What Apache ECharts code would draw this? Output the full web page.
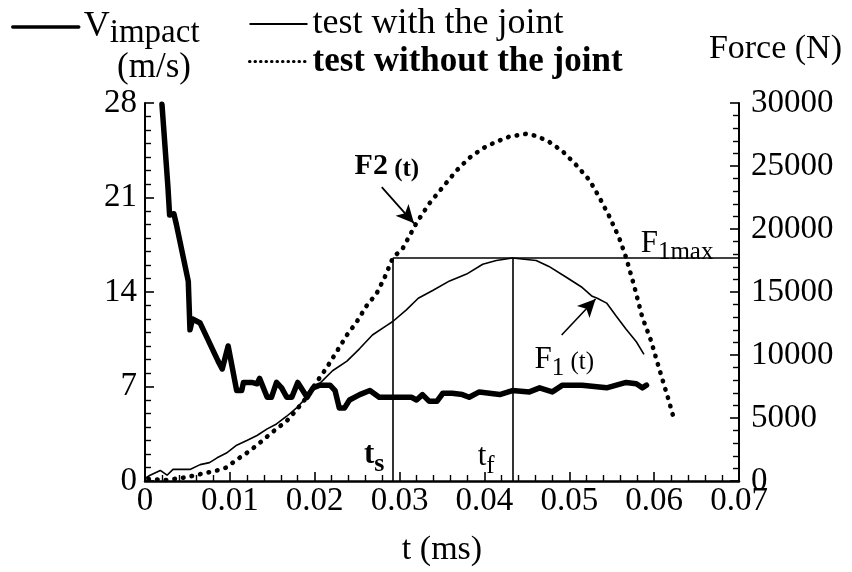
<!DOCTYPE html>
<html>
<head>
<meta charset="utf-8">
<script src="https://cdn.jsdelivr.net/npm/echarts/dist/echarts.min.js"></script>
<style>
  html, body { margin: 0; padding: 0; background: #fff; }
  #chart { width: 852px; height: 572px; }
</style>
</head>
<body>
<div id="chart"></div>
<script>
const FONT = '"Liberation Serif", "Times New Roman", serif';

// Impact velocity (m/s) against time (ms)
const vImpactT = [0.0020, 0.0027, 0.0029, 0.0034, 0.0037, 0.0051, 0.0053, 0.0056, 0.0065, 0.0086, 0.0091, 0.0098,
  0.0108, 0.0114, 0.0116, 0.0126, 0.0132, 0.0135, 0.0144, 0.0149, 0.0155, 0.0161, 0.0167, 0.0173, 0.0180, 0.0186,
  0.0191, 0.0198, 0.0206, 0.0218, 0.0224, 0.0229, 0.0235, 0.0241, 0.0253, 0.0265, 0.0276, 0.0292, 0.0304, 0.0314,
  0.0320, 0.0327, 0.0335, 0.0344, 0.0351, 0.0362, 0.0374, 0.0382, 0.0394, 0.0406, 0.0418, 0.0433, 0.0453, 0.0465,
  0.0480, 0.0492, 0.0515, 0.0544, 0.0567, 0.0579, 0.0586, 0.0591];
const vImpactV = [27.9, 21.8, 19.7, 19.8, 19.0, 14.8, 11.2, 12.0, 11.7, 8.9, 8.3, 10.0,
  6.7, 6.7, 7.3, 7.3, 7.2, 7.6, 6.2, 6.2, 7.3, 6.9, 6.2, 6.2, 7.3, 6.7,
  6.2, 6.9, 7.1, 7.1, 6.7, 5.4, 5.4, 6.0, 6.4, 6.7, 6.2, 6.2, 6.2, 6.2,
  6.0, 6.4, 5.9, 5.9, 6.5, 6.5, 6.4, 6.2, 6.6, 6.5, 6.4, 6.7, 6.6, 6.9,
  6.6, 7.1, 7.1, 6.9, 7.3, 7.2, 6.9, 7.1];

// Force measured with the joint, F1(t), in N
const f1T = [0, 0.0006, 0.0018, 0.0026, 0.0033, 0.0053, 0.0065, 0.0076, 0.0085, 0.0096, 0.0108, 0.0120, 0.0132,
  0.0144, 0.0155, 0.0167, 0.0179, 0.0191, 0.0206, 0.0221, 0.0238, 0.0253, 0.0268, 0.0285, 0.0292, 0.0308, 0.0322,
  0.0339, 0.0359, 0.0379, 0.0398, 0.0414, 0.0433, 0.0461, 0.0476, 0.0496, 0.0514, 0.0527, 0.0533, 0.0544, 0.0555,
  0.0567, 0.0579, 0.0588];
const f1F = [200, 460, 840, 460, 920, 920, 1300, 1460, 1840, 2220, 2840, 3220, 3610,
  4140, 4530, 5140, 5830, 6680, 7750, 8750, 9510, 10510, 11590, 12350, 12660, 13580, 14500,
  15120, 15880, 16420, 17200, 17500, 17700, 17500, 17030, 16190, 15420, 14660, 14500, 14120, 13120,
  12050, 11050, 10050];

// Force measured without the joint, F2(t), in N
const f2T = [0.0004, 0.0026, 0.0049, 0.0065, 0.0085, 0.0096, 0.0108, 0.0120, 0.0132, 0.0144, 0.0155, 0.0167,
  0.0179, 0.0191, 0.0202, 0.0214, 0.0226, 0.0238, 0.0249, 0.0261, 0.0273, 0.0282, 0.0292, 0.0304, 0.0320, 0.0335,
  0.0351, 0.0367, 0.0382, 0.0398, 0.0414, 0.0429, 0.0449, 0.0461, 0.0476, 0.0492, 0.0508, 0.0524, 0.0535, 0.0547,
  0.0559, 0.0567, 0.0576, 0.0586, 0.0596, 0.0606, 0.0618, 0.0624];
const f2F = [150, 80, 300, 540, 840, 1070, 1690, 2230, 2840, 3530, 4140, 4760,
  5680, 6680, 7830, 8980, 10280, 11590, 12580, 13890, 14890, 16100, 17700, 18490, 20490, 22020,
  23330, 24630, 25630, 26400, 26930, 27320, 27550, 27390, 26930, 26170, 25090, 23860, 22560, 21020,
  19260, 17720, 15600, 13000, 11200, 8900, 6220, 4760];

// Peak force with the joint and the two instants it defines
const F1_MAX = 17700;
const T_S = 0.0292;
const T_F = 0.0433;

// Axis ranges and tick steps
const T_RANGE = [0, 0.07, 0.01];
const V_RANGE = [0, 28, 7];
const F_RANGE = [0, 30000, 5000];

const zip = (xs, ys) => xs.map((x, i) => [x, ys[i]]);

const black = '#000';
const txt = (size, weight) => ({ fontFamily: FONT, fontSize: size, fontWeight: weight || 'normal', color: black });

const axisCommon = {
  axisLine: { show: true, onZero: false, lineStyle: { color: black, width: 2 } },
  axisTick: { show: true, inside: true, length: 9, lineStyle: { color: black, width: 1.6 } },
  minorTick: { show: true, length: 6, lineStyle: { color: black, width: 1.4 } },
  splitLine: { show: false },
  axisLabel: Object.assign(txt(33), { margin: 8 })
};

const guideLine = { color: black, width: 1.6, type: 'solid' };
// legend keeps only the line sample, no marker dot
const hiddenMarker = { opacity: 0, color: 'rgba(0,0,0,0)', borderWidth: 0 };

const chart = echarts.init(document.getElementById('chart'), null, { renderer: 'canvas' });
chart.setOption({
  animation: false,
  backgroundColor: '#fff',
  grid: { left: 145, right: 113, top: 103, bottom: 78, containLabel: false },
  legend: [
    {
      data: [{ name: 'Vimpact', lineStyle: { width: 3.5 } }],
      left: 6, top: 4,
      itemWidth: 66, itemHeight: 14,
      selectedMode: false,
      itemStyle: hiddenMarker,
      formatter: () => '{v|V}{s|impact}',
      textStyle: {
        fontFamily: FONT, color: black,
        rich: {
          v: txt(36),
          s: Object.assign(txt(33), { padding: [12, 0, 0, 0] })
        }
      }
    },
    {
      data: [
        { name: 'test with the joint', textStyle: txt(36) },
        { name: 'test without the joint', textStyle: txt(35, 'bold'), lineStyle: { width: 3, type: [0.5, 5] } }
      ],
      orient: 'vertical',
      left: 243, top: 1,
      itemWidth: 58, itemHeight: 14, itemGap: 2,
      selectedMode: false,
      itemStyle: hiddenMarker,
      textStyle: txt(36)
    }
  ],
  xAxis: Object.assign({}, axisCommon, {
    type: 'value', min: T_RANGE[0], max: T_RANGE[1], interval: T_RANGE[2],
    minorTick: Object.assign({}, axisCommon.minorTick, { splitNumber: 5 }),
    axisLine: { show: true, onZero: false, lineStyle: { color: black, width: 2.5 } },
    axisLabel: Object.assign(txt(33), { margin: 4, formatter: v => (v === 0 ? '0' : v.toFixed(2)) }),
    name: 't (ms)', nameLocation: 'middle', nameGap: 52,
    nameTextStyle: txt(34)
  }),
  yAxis: [
    Object.assign({}, axisCommon, {
      type: 'value', position: 'left', min: V_RANGE[0], max: V_RANGE[1], interval: V_RANGE[2],
      minorTick: Object.assign({}, axisCommon.minorTick, { splitNumber: 7 }),
      name: '(m/s)', nameLocation: 'end', nameGap: 18,
      nameTextStyle: Object.assign(txt(35), { padding: [0, 0, 0, 18] })
    }),
    Object.assign({}, axisCommon, {
      type: 'value', position: 'right', min: F_RANGE[0], max: F_RANGE[1], interval: F_RANGE[2],
      minorTick: Object.assign({}, axisCommon.minorTick, { splitNumber: 5 }),
      axisLabel: Object.assign(txt(33), { margin: 12, formatter: v => String(v) })
    })
  ],
  graphic: [
    { type: 'text', right: 10, top: 32, style: Object.assign(txt(34), { text: 'Force (N)', fill: black }) }
  ],
  series: [
    {
      name: 'Vimpact', type: 'line', yAxisIndex: 0, data: zip(vImpactT, vImpactV),
      symbol: 'none', showSymbol: false, silent: true, z: 4,
      lineStyle: { color: black, width: 5.5, join: 'round', cap: 'round' },
      itemStyle: { color: black }
    },
    {
      name: 'test with the joint', type: 'line', yAxisIndex: 1, data: zip(f1T, f1F),
      symbol: 'none', showSymbol: false, silent: true, z: 3,
      lineStyle: { color: black, width: 1.6 },
      itemStyle: { color: black },
      markLine: {
        silent: true, symbol: 'none', label: { show: false }, lineStyle: guideLine,
        data: [
          [{ coord: [T_S, 0] }, { coord: [T_S, F1_MAX] }],
          [{ coord: [T_F, 0] }, { coord: [T_F, F1_MAX] }],
          [{ coord: [T_S, F1_MAX] }, { coord: [T_RANGE[1], F1_MAX] }],
          [{ coord: [0.0491, 11590], symbol: 'none' }, { coord: [0.0531, 14450], symbol: 'arrow', symbolSize: [13, 18] }]
        ]
      },
      markPoint: {
        silent: true, symbol: 'circle', symbolSize: 0,
        data: [
          { coord: [0.0494, 9750], label: { formatter: '{a|F}{b|1}{c| (t)}' } },
          { coord: [0.0270, 2150], label: { formatter: '{ab|t}{bb|s}' } },
          { coord: [0.0402, 2000], label: { formatter: '{a|t}{b|f}' } },
          { coord: [0.0627, 18950], label: { formatter: '{a|F}{b|1max}' } }
        ],
        label: {
          show: true, position: 'inside', color: black,
          rich: {
            a: Object.assign(txt(31), { verticalAlign: 'bottom', lineHeight: 34 }),
            b: Object.assign(txt(25), { verticalAlign: 'bottom', lineHeight: 34, padding: [0, 0, -6, 0] }),
            c: Object.assign(txt(25), { verticalAlign: 'bottom', lineHeight: 34 }),
            ab: Object.assign(txt(31, 'bold'), { verticalAlign: 'bottom', lineHeight: 34 }),
            bb: Object.assign(txt(26, 'bold'), { verticalAlign: 'bottom', lineHeight: 34, padding: [0, 0, -6, 0] })
          }
        }
      }
    },
    {
      name: 'test without the joint', type: 'line', yAxisIndex: 1, data: zip(f2T, f2F),
      symbol: 'none', showSymbol: false, silent: true, z: 3,
      lineStyle: { color: black, width: 4.6, type: [0.5, 8.2], cap: 'round' },
      itemStyle: { color: black },
      markLine: {
        silent: true, label: { show: false },
        lineStyle: { color: black, width: 1.8, type: 'solid' },
        data: [
          [{ coord: [0.0279, 23330], symbol: 'none' }, { coord: [0.0317, 20450], symbol: 'arrow', symbolSize: [13, 18] }]
        ]
      },
      markPoint: {
        silent: true, symbol: 'circle', symbolSize: 0,
        data: [
          { coord: [0.0285, 25100], label: { formatter: '{a|F2}{c| (t)}' } }
        ],
        label: {
          show: true, position: 'inside', color: black,
          rich: {
            a: Object.assign(txt(30, 'bold'), { verticalAlign: 'bottom', lineHeight: 34 }),
            c: Object.assign(txt(25, 'bold'), { verticalAlign: 'bottom', lineHeight: 34 })
          }
        }
      }
    }
  ]
});
</script>
</body>
</html>
